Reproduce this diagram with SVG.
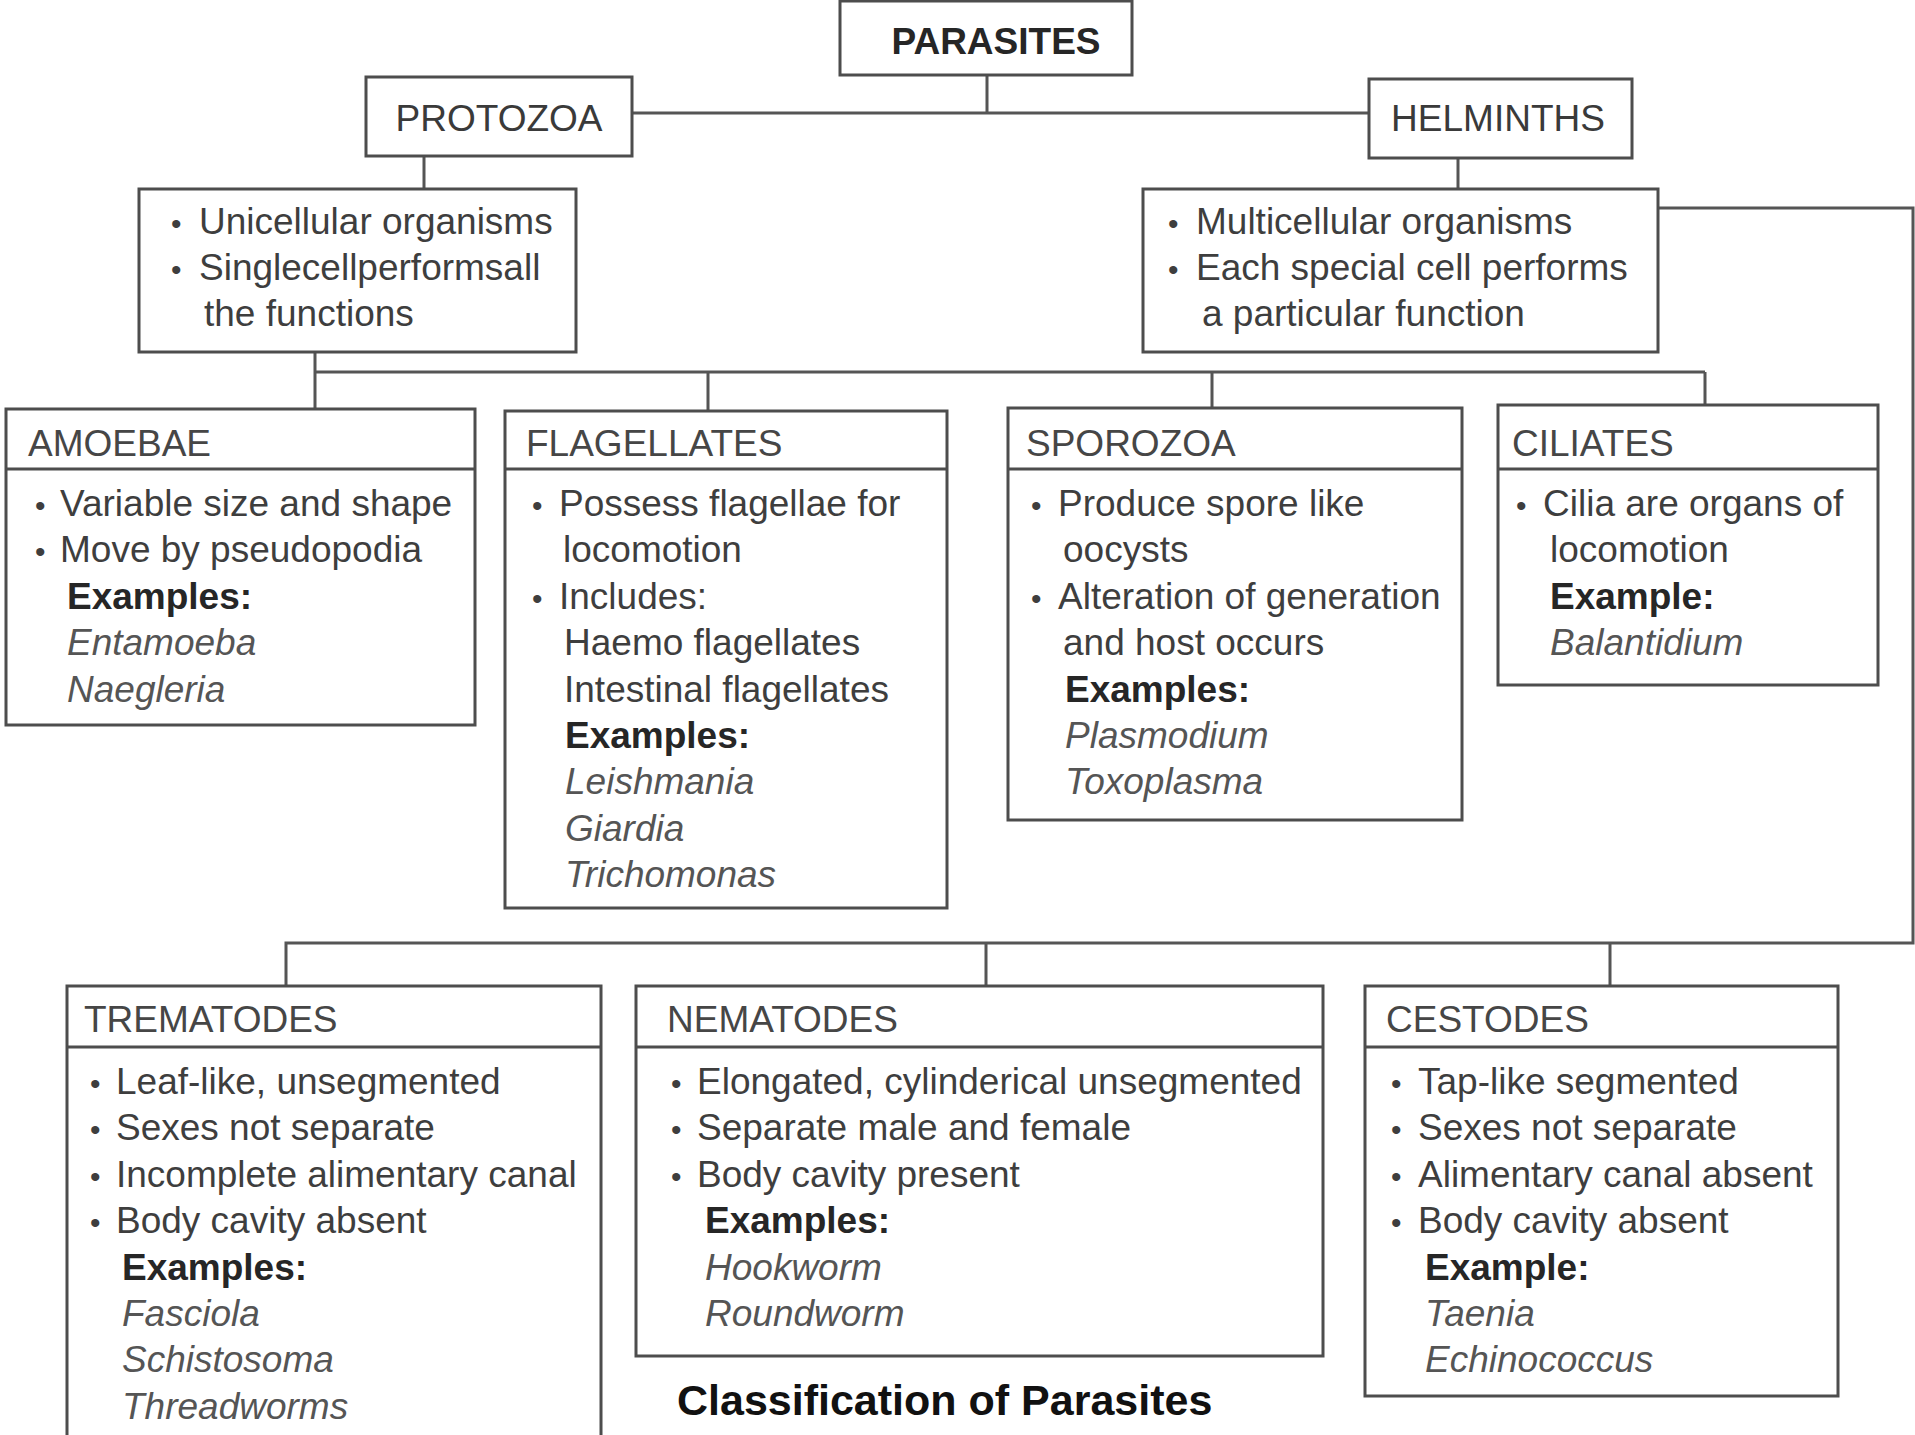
<svg xmlns="http://www.w3.org/2000/svg" width="1915" height="1435" viewBox="0 0 1915 1435">
<style>
  .box{fill:#fff;stroke:#4d4d4d;stroke-width:3}
  .div{stroke:#4d4d4d;stroke-width:3}
  .con{fill:none;stroke:#555;stroke-width:3}
  text{font-family:"Liberation Sans",Arial,sans-serif;font-size:37px;fill:#3e3e3e}
  .top{font-size:37px;fill:#3a3a3a}
  .topb{font-weight:bold;fill:#262626}
  .hd{fill:#464646}
  .b{font-size:30px}
  .ex{font-weight:bold;fill:#262626}
  .it{font-style:italic;fill:#555}
  .cap{font-size:43px;font-weight:bold;fill:#111}
</style>
<rect width="1915" height="1435" fill="#fff"/>

<g id="connectors">
  <path class="con" d="M987,75 V113 M632,113 H1369"/>
  <path class="con" d="M424,156 V189"/>
  <path class="con" d="M1458,158 V189"/>
  <path class="con" d="M315,352 V409 M315,372 H1705 M708,372 V411 M1212,372 V408 M1705,372 V405"/>
  <path class="con" d="M1659,208 H1913 V943 H286 V986 M986,943 V986 M1610,943 V986"/>
</g>

<g id="parasites">
  <rect class="box" x="840" y="1" width="292" height="74"/>
  <text class="top topb" x="996" y="54" text-anchor="middle">PARASITES</text>
</g>

<g id="protozoa">
  <rect class="box" x="366" y="77" width="266" height="79"/>
  <text class="top" x="499" y="131" text-anchor="middle">PROTOZOA</text>
</g>

<g id="helminths">
  <rect class="box" x="1369" y="79" width="263" height="79"/>
  <text class="top" x="1498" y="131" text-anchor="middle">HELMINTHS</text>
</g>

<g id="protozoa-desc">
  <rect class="box" x="139" y="189" width="437" height="163"/>
  <text y="234"><tspan class="b" x="171">•</tspan><tspan x="199">Unicellular organisms</tspan></text>
  <text y="280"><tspan class="b" x="171">•</tspan><tspan x="199">Singlecellperformsall</tspan></text>
  <text x="204" y="326">the functions</text>
</g>

<g id="helminths-desc">
  <rect class="box" x="1143" y="189" width="515" height="163"/>
  <text y="234"><tspan class="b" x="1168">•</tspan><tspan x="1196">Multicellular organisms</tspan></text>
  <text y="280"><tspan class="b" x="1168">•</tspan><tspan x="1196">Each special cell performs</tspan></text>
  <text x="1202" y="326">a particular function</text>
</g>

<g id="amoebae">
  <rect class="box" x="6" y="409" width="469" height="316"/>
  <line class="div" x1="6" y1="469" x2="475" y2="469"/>
  <text class="hd" x="28" y="456">AMOEBAE</text>
  <text y="516"><tspan class="b" x="35">•</tspan><tspan x="60">Variable size and shape</tspan></text>
  <text y="562"><tspan class="b" x="35">•</tspan><tspan x="60">Move by pseudopodia</tspan></text>
  <text class="ex" x="67" y="609">Examples:</text>
  <text class="it" x="67" y="655">Entamoeba</text>
  <text class="it" x="67" y="702">Naegleria</text>
</g>

<g id="flagellates">
  <rect class="box" x="505" y="411" width="442" height="497"/>
  <line class="div" x1="505" y1="469" x2="947" y2="469"/>
  <text class="hd" x="526" y="456">FLAGELLATES</text>
  <text y="516"><tspan class="b" x="532">•</tspan><tspan x="559">Possess flagellae for</tspan></text>
  <text x="563" y="562">locomotion</text>
  <text y="609"><tspan class="b" x="532">•</tspan><tspan x="559">Includes:</tspan></text>
  <text x="564" y="655">Haemo flagellates</text>
  <text x="564" y="702">Intestinal flagellates</text>
  <text class="ex" x="565" y="748">Examples:</text>
  <text class="it" x="565" y="794">Leishmania</text>
  <text class="it" x="565" y="841">Giardia</text>
  <text class="it" x="565" y="887">Trichomonas</text>
</g>

<g id="sporozoa">
  <rect class="box" x="1008" y="408" width="454" height="412"/>
  <line class="div" x1="1008" y1="469" x2="1462" y2="469"/>
  <text class="hd" x="1026" y="456">SPOROZOA</text>
  <text y="516"><tspan class="b" x="1031">•</tspan><tspan x="1058">Produce spore like</tspan></text>
  <text x="1063" y="562">oocysts</text>
  <text y="609"><tspan class="b" x="1031">•</tspan><tspan x="1058">Alteration of generation</tspan></text>
  <text x="1063" y="655">and host occurs</text>
  <text class="ex" x="1065" y="702">Examples:</text>
  <text class="it" x="1065" y="748">Plasmodium</text>
  <text class="it" x="1065" y="794">Toxoplasma</text>
</g>

<g id="ciliates">
  <rect class="box" x="1498" y="405" width="380" height="280"/>
  <line class="div" x1="1498" y1="469" x2="1878" y2="469"/>
  <text class="hd" x="1512" y="456">CILIATES</text>
  <text y="516"><tspan class="b" x="1516">•</tspan><tspan x="1543">Cilia are organs of</tspan></text>
  <text x="1550" y="562">locomotion</text>
  <text class="ex" x="1550" y="609">Example:</text>
  <text class="it" x="1550" y="655">Balantidium</text>
</g>

<g id="trematodes">
  <rect class="box" x="67" y="986" width="534" height="470"/>
  <line class="div" x1="67" y1="1047" x2="601" y2="1047"/>
  <text class="hd" x="84" y="1032">TREMATODES</text>
  <text y="1094"><tspan class="b" x="90">•</tspan><tspan x="116">Leaf-like, unsegmented</tspan></text>
  <text y="1140"><tspan class="b" x="90">•</tspan><tspan x="116">Sexes not separate</tspan></text>
  <text y="1187"><tspan class="b" x="90">•</tspan><tspan x="116">Incomplete alimentary canal</tspan></text>
  <text y="1233"><tspan class="b" x="90">•</tspan><tspan x="116">Body cavity absent</tspan></text>
  <text class="ex" x="122" y="1280">Examples:</text>
  <text class="it" x="122" y="1326">Fasciola</text>
  <text class="it" x="122" y="1372">Schistosoma</text>
  <text class="it" x="122" y="1419">Threadworms</text>
</g>

<g id="nematodes">
  <rect class="box" x="636" y="986" width="687" height="370"/>
  <line class="div" x1="636" y1="1047" x2="1323" y2="1047"/>
  <text class="hd" x="667" y="1032">NEMATODES</text>
  <text y="1094"><tspan class="b" x="671">•</tspan><tspan x="697">Elongated, cylinderical unsegmented</tspan></text>
  <text y="1140"><tspan class="b" x="671">•</tspan><tspan x="697">Separate male and female</tspan></text>
  <text y="1187"><tspan class="b" x="671">•</tspan><tspan x="697">Body cavity present</tspan></text>
  <text class="ex" x="705" y="1233">Examples:</text>
  <text class="it" x="705" y="1280">Hookworm</text>
  <text class="it" x="705" y="1326">Roundworm</text>
</g>

<g id="cestodes">
  <rect class="box" x="1365" y="986" width="473" height="410"/>
  <line class="div" x1="1365" y1="1047" x2="1838" y2="1047"/>
  <text class="hd" x="1386" y="1032">CESTODES</text>
  <text y="1094"><tspan class="b" x="1391">•</tspan><tspan x="1418">Tap-like segmented</tspan></text>
  <text y="1140"><tspan class="b" x="1391">•</tspan><tspan x="1418">Sexes not separate</tspan></text>
  <text y="1187"><tspan class="b" x="1391">•</tspan><tspan x="1418">Alimentary canal absent</tspan></text>
  <text y="1233"><tspan class="b" x="1391">•</tspan><tspan x="1418">Body cavity absent</tspan></text>
  <text class="ex" x="1425" y="1280">Example:</text>
  <text class="it" x="1425" y="1326">Taenia</text>
  <text class="it" x="1425" y="1372">Echinococcus</text>
</g>

<g id="caption">
  <text class="cap" x="677" y="1415">Classification of Parasites</text>
</g>
</svg>
